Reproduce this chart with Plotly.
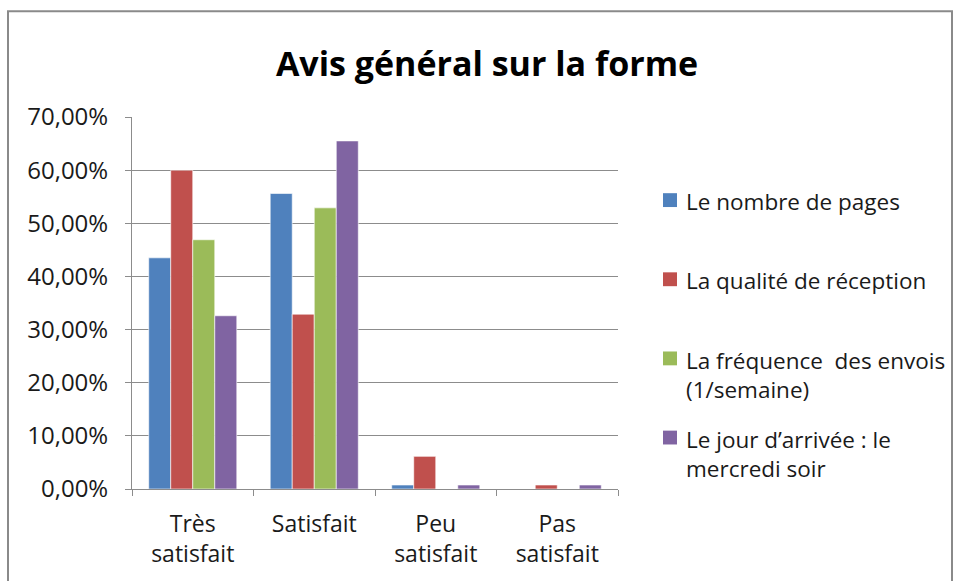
import plotly.graph_objects as go

categories = ["Très<br>satisfait", "Satisfait", "Peu<br>satisfait", "Pas<br>satisfait"]
series_names = [
    "Le nombre de pages",
    "La qualité de réception",
    "La fréquence  des envois<br>(1/semaine)",
    "Le jour d\u2019arrivée : le<br>mercredi soir",
]
nombre_pages = [0.435, 0.556, 0.0075, 0.0]
qualite_reception = [0.600, 0.329, 0.0615, 0.0075]
frequence_envois = [0.469, 0.529, 0.0, 0.0]
jour_arrivee = [0.326, 0.655, 0.0075, 0.0075]
colors = ["#4F81BD", "#C0504D", "#9BBB59", "#8064A2"]
y_ticks = [0, 0.1, 0.2, 0.3, 0.4, 0.5, 0.6, 0.7]
y_tick_labels = ["0,00%", "10,00%", "20,00%", "30,00%", "40,00%", "50,00%", "60,00%", "70,00%"]

FONT = "Open Sans"
W, H = 958, 581
L, R, T, B = 132, 618, 117, 493

fig = go.Figure()
for name, vals, c in zip(series_names, [nombre_pages, qualite_reception, frequence_envois, jour_arrivee], colors):
    fig.add_trace(go.Bar(x=categories, y=vals, name=name, marker_color=c,
                         marker_line=dict(color="rgba(255,255,255,0.6)", width=1),
                         showlegend=False))

def px_x(px):
    return (px - L) / (R - L)

def px_y(py):
    return (B - py) / (B - T)

shapes = []
annotations = []
# custom legend
first_line_y = [201, 281, 361, 441]
for name, c, yy in zip(series_names, colors, first_line_y):
    shapes.append(dict(type="rect", xref="paper", yref="paper",
                       x0=px_x(663), x1=px_x(677), y0=px_y(yy + 7), y1=px_y(yy - 7),
                       fillcolor=c, line=dict(width=0)))
    annotations.append(dict(text=name, xref="paper", yref="paper", x=px_x(684), y=px_y(yy - 16),
                            xanchor="left", yanchor="top", align="left", showarrow=False,
                            font=dict(family=FONT, size=22.5, color="#1a1a1a")))

# outer border
shapes.append(dict(type="rect", xref="paper", yref="paper",
                   x0=px_x(8), x1=px_x(952), y0=px_y(600), y1=px_y(10),
                   line=dict(color="#8a8a8a", width=2), fillcolor="rgba(0,0,0,0)", layer="below"))

fig.update_layout(
    width=W, height=H,
    margin=dict(l=L, r=W - R, t=T, b=H - B),
    paper_bgcolor="white", plot_bgcolor="white",
    title=dict(text="<b>Avis général sur la forme</b>", x=px_x(487), xref="paper", xanchor="center",
               y=1 - 64 / H, yanchor="middle",
               font=dict(family=FONT, size=34, color="#000000")),
    bargap=0.275, bargroupgap=0,
    shapes=shapes, annotations=annotations,
    font=dict(family=FONT, size=23, color="#1a1a1a"),
)
fig.update_yaxes(range=[0, 0.7], tickvals=y_ticks, ticktext=y_tick_labels,
                 showgrid=True, gridcolor="#8c8c8c", gridwidth=1,
                 showline=True, linecolor="#8c8c8c", linewidth=1,
                 ticks="outside", ticklen=6, tickcolor="#8c8c8c",
                 ticklabelstandoff=12, zeroline=False,
                 tickfont=dict(family=FONT, size=24, color="#1a1a1a"))
fig.update_xaxes(showline=True, linecolor="#8c8c8c", linewidth=1,
                 ticks="outside", ticklen=6, tickcolor="#8c8c8c", tickson="boundaries",
                 ticklabelstandoff=14,
                 tickfont=dict(family=FONT, size=23, color="#1a1a1a"))

fig.write_html("out.html", config={"displayModeBar": False},
               post_script="document.body.style.margin='0';document.body.style.overflow='hidden';")
